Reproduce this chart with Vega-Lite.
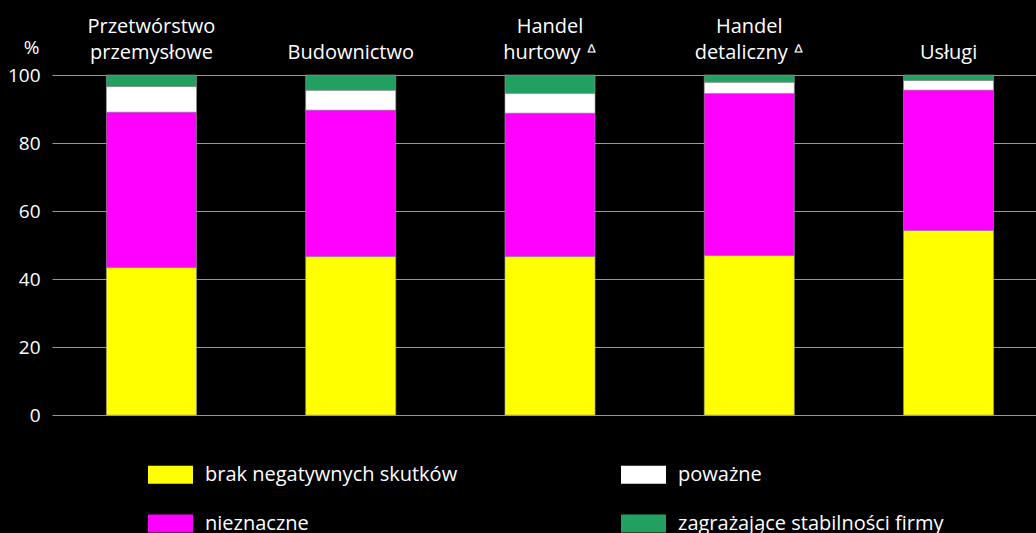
{
  "$schema": "https://vega.github.io/schema/vega-lite/v6.json",
  "width": 984,
  "height": 340,
  "autosize": "none",
  "padding": {"left": 52, "top": 75, "right": 0, "bottom": 118},
  "background": "#000000",
  "config": {
    "view": {"stroke": null},
    "font": "Open Sans"
  },
  "data": {
    "values": [
      {"sekcja": "Przetwórstwo przemysłowe", "kategoria": "brak negatywnych skutków", "wartosc": 43.4},
      {"sekcja": "Przetwórstwo przemysłowe", "kategoria": "nieznaczne", "wartosc": 45.7},
      {"sekcja": "Przetwórstwo przemysłowe", "kategoria": "poważne", "wartosc": 7.5},
      {"sekcja": "Przetwórstwo przemysłowe", "kategoria": "zagrażające stabilności firmy", "wartosc": 3.4},
      {"sekcja": "Budownictwo", "kategoria": "brak negatywnych skutków", "wartosc": 46.6},
      {"sekcja": "Budownictwo", "kategoria": "nieznaczne", "wartosc": 43.1},
      {"sekcja": "Budownictwo", "kategoria": "poważne", "wartosc": 5.8},
      {"sekcja": "Budownictwo", "kategoria": "zagrażające stabilności firmy", "wartosc": 4.5},
      {"sekcja": "Handel hurtowy", "kategoria": "brak negatywnych skutków", "wartosc": 46.6},
      {"sekcja": "Handel hurtowy", "kategoria": "nieznaczne", "wartosc": 42.2},
      {"sekcja": "Handel hurtowy", "kategoria": "poważne", "wartosc": 5.8},
      {"sekcja": "Handel hurtowy", "kategoria": "zagrażające stabilności firmy", "wartosc": 5.4},
      {"sekcja": "Handel detaliczny", "kategoria": "brak negatywnych skutków", "wartosc": 46.9},
      {"sekcja": "Handel detaliczny", "kategoria": "nieznaczne", "wartosc": 47.7},
      {"sekcja": "Handel detaliczny", "kategoria": "poważne", "wartosc": 3.3},
      {"sekcja": "Handel detaliczny", "kategoria": "zagrażające stabilności firmy", "wartosc": 2.1},
      {"sekcja": "Usługi", "kategoria": "brak negatywnych skutków", "wartosc": 54.3},
      {"sekcja": "Usługi", "kategoria": "nieznaczne", "wartosc": 41.3},
      {"sekcja": "Usługi", "kategoria": "poważne", "wartosc": 2.8},
      {"sekcja": "Usługi", "kategoria": "zagrażające stabilności firmy", "wartosc": 1.6}
    ]
  },
  "mark": {"type": "bar", "stroke": "#9a9a9a", "strokeWidth": 0.6},
  "encoding": {
    "x": {
      "field": "sekcja",
      "type": "nominal",
      "sort": null,
      "scale": {"range": [0, 996], "paddingInner": 0.548, "paddingOuter": 0.273},
      "axis": {
        "orient": "top",
        "title": null,
        "domain": false,
        "ticks": false,
        "labelAngle": 0,
        "labelColor": "#ffffff",
        "labelFontSize": 20,
        "labelLineHeight": 26,
        "labelBaseline": "bottom",
        "labelPadding": 39,
        "labelExpr": "indexof(datum.label, 'Handel') == 0 ? [split(datum.label, ' ')[0], split(datum.label, ' ')[1] + ' ᐞ'] : (datum.label == 'Przetwórstwo przemysłowe' ? ['Przetwórstwo', 'przemysłowe'] : ['', datum.label])"
      }
    },
    "y": {
      "field": "wartosc",
      "type": "quantitative",
      "stack": "zero",
      "scale": {"domain": [0, 100], "nice": false},
      "axis": {
        "values": [0, 20, 40, 60, 80, 100],
        "title": "%",
        "titleAngle": 0,
        "titleX": -21,
        "titleY": -28,
        "titleAlign": "center",
        "titleBaseline": "middle",
        "titleFontWeight": "normal",
        "titleFontSize": 19,
        "titleColor": "#ffffff",
        "domain": false,
        "ticks": false,
        "labelColor": "#ffffff",
        "labelFontSize": 19,
        "labelPadding": 12,
        "gridColor": "#999999",
        "gridWidth": 1
      }
    },
    "color": {
      "field": "kategoria",
      "type": "nominal",
      "scale": {
        "domain": ["brak negatywnych skutków", "nieznaczne", "poważne", "zagrażające stabilności firmy"],
        "range": ["#ffff00", "#ff00ff", "#ffffff", "#22a060"]
      },
      "legend": {
        "title": null,
        "orient": "none",
        "legendX": 96,
        "legendY": 377,
        "direction": "horizontal",
        "columns": 2,
        "columnPadding": 163,
        "rowPadding": 16,
        "padding": 0,
        "values": ["brak negatywnych skutków", "poważne", "nieznaczne", "zagrażające stabilności firmy"],
        "symbolType": "M-1,-0.4L1,-0.4L1,0.4L-1,0.4Z",
        "symbolSize": 2025,
        "symbolStrokeWidth": 0,
        "symbolOpacity": 1,
        "labelColor": "#ffffff",
        "labelFontSize": 20,
        "labelOffset": 12,
        "labelLimit": 400
      }
    },
    "order": {"field": "kategoria", "sort": "ascending"}
  }
}
